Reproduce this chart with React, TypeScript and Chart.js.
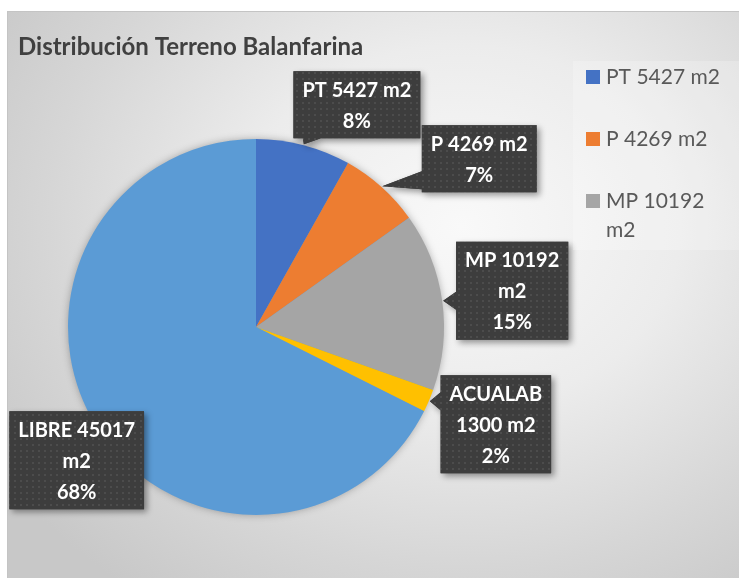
import React, { useEffect, useRef } from "react";
import { Chart, registerables } from "chart.js";

Chart.register(...registerables);

// ---- data ----
const chartTitle = "Distribución Terreno Balanfarina";
const categories = ["PT 5427 m2", "P 4269 m2", "MP 10192 m2", "ACUALAB 1300 m2", "LIBRE 45017 m2"];
// slice sizes (the P slice is drawn at ~7%)
const areas = [5427, 4650, 10192, 1300, 45017];
const sliceColors = ["#4472C4", "#ED7D31", "#A5A5A5", "#FFC000", "#5B9BD5"];

// ---- layout (not data) ----
const labelOffsets: [number, number][] = [
  [53, -39.5],
  [97, -27.5],
  [69, -10],
  [66, 23],
  [-18.5, 34],
];
const labelWrapWidth = [130, 130, 110, 110, 125];
const FONT = "Lato, 'Open Sans', sans-serif";

function wrapText(ctx: CanvasRenderingContext2D, text: string, maxW: number): string[] {
  const words = text.split(" ");
  const lines: string[] = [];
  let cur = "";
  for (const w of words) {
    const test = cur ? cur + " " + w : w;
    if (cur && ctx.measureText(test).width > maxW) {
      lines.push(cur);
      cur = w;
    } else cur = test;
  }
  if (cur) lines.push(cur);
  return lines;
}

let patternCache: CanvasPattern | null = null;
function getPattern(ctx: CanvasRenderingContext2D) {
  if (patternCache) return patternCache;
  const c = document.createElement("canvas");
  c.width = 6;
  c.height = 6;
  const p = c.getContext("2d")!;
  p.fillStyle = "#3d3d3d";
  p.fillRect(0, 0, 6, 6);
  p.fillStyle = "#4c4c4c";
  p.fillRect(1, 1, 2, 2);
  patternCache = ctx.createPattern(c, "repeat");
  return patternCache;
}

const pieShadowPlugin = {
  id: "pieShadow",
  beforeDatasetsDraw(chart: any) {
    const meta = chart.getDatasetMeta(0);
    const arc = meta.data[0];
    if (!arc) return;
    const { x, y, outerRadius } = arc.getProps(["x", "y", "outerRadius"], true);
    const ctx = chart.ctx;
    ctx.save();
    ctx.shadowColor = "rgba(0,0,0,0.35)";
    ctx.shadowBlur = 9;
    ctx.beginPath();
    ctx.arc(x, y, outerRadius - 1, 0, Math.PI * 2);
    ctx.fillStyle = "#5B9BD5";
    ctx.fill();
    ctx.restore();
  },
};

const titlePlugin = {
  id: "customTitle",
  afterDraw(chart: any) {
    const ctx = chart.ctx;
    ctx.save();
    ctx.font = `bold 24px ${FONT}`;
    ctx.fillStyle = "#404040";
    ctx.textAlign = "left";
    ctx.textBaseline = "alphabetic";
    ctx.fillText(chartTitle, 11, 44);
    ctx.restore();
  },
};

const legendPlugin = {
  id: "customLegend",
  afterDraw(chart: any) {
    const ctx = chart.ctx;
    const boxX = 566, boxY = 50, boxW = 170, boxH = 189;
    ctx.save();
    ctx.fillStyle = "rgba(255,255,255,0.22)";
    ctx.fillRect(boxX, boxY, boxW, boxH);
    ctx.font = `21px ${FONT}`;
    ctx.textBaseline = "alphabetic";
    ctx.textAlign = "left";
    let yTop = 59;
    const lineH = 29;
    const itemGap = 62;
    for (let i = 0; i < categories.length; i++) {
      const lines = wrapText(ctx, categories[i], 122);
      if (yTop + lines.length * lineH > boxY + boxH + 4) break;
      ctx.fillStyle = sliceColors[i];
      ctx.fillRect(579, yTop, 14, 14);
      ctx.fillStyle = "#595959";
      lines.forEach((l, k) => ctx.fillText(l, 599, yTop + 14 + k * lineH));
      yTop += itemGap;
    }
    ctx.restore();
  },
};

const dataLabelPlugin = {
  id: "calloutLabels",
  afterDatasetsDraw(chart: any) {
    const ctx: CanvasRenderingContext2D = chart.ctx;
    const meta = chart.getDatasetMeta(0);
    const total = areas.reduce((a, b) => a + b, 0);
    ctx.save();
    ctx.font = `bold 20px ${FONT}`;
    meta.data.forEach((arc: any, i: number) => {
      const { x, y, startAngle, endAngle, outerRadius } = arc.getProps(
        ["x", "y", "startAngle", "endAngle", "outerRadius"],
        true
      );
      const mid = (startAngle + endAngle) / 2;
      const tx = x + Math.cos(mid) * (outerRadius + 1);
      const ty = y + Math.sin(mid) * (outerRadius + 1);
      const pct = Math.round((areas[i] / total) * 100) + "%";
      const lines = [...wrapText(ctx, categories[i], labelWrapWidth[i]), pct];
      const lineH = 31;
      const tw = Math.max(...lines.map((l) => ctx.measureText(l).width));
      const w = tw + 18;
      const h = lines.length * lineH + 5;
      const cx = tx + labelOffsets[i][0];
      const cy = ty + labelOffsets[i][1];
      const bx = cx - w / 2, by = cy - h / 2;
      const br = bx + w, bb = by + h;
      const outs = [
        { e: "L", d: bx - tx },
        { e: "R", d: tx - br },
        { e: "T", d: by - ty },
        { e: "B", d: ty - bb },
      ].sort((a, b) => b.d - a.d);
      const edge = outs[0].d > 0 ? outs[0].e : "";
      const half = 9;
      const clamp = (v: number, a: number, b: number) => Math.max(a, Math.min(b, v));
      ctx.beginPath();
      ctx.moveTo(bx, by);
      if (edge === "T") {
        const c = clamp(tx, bx + 12, br - 12);
        ctx.lineTo(c - half, by); ctx.lineTo(tx, ty); ctx.lineTo(c + half, by);
      }
      ctx.lineTo(br, by);
      if (edge === "R") {
        const c = clamp(ty, by + 12, bb - 12);
        ctx.lineTo(br, c - half); ctx.lineTo(tx, ty); ctx.lineTo(br, c + half);
      }
      ctx.lineTo(br, bb);
      if (edge === "B") {
        const c = clamp(tx + 8, bx + 12, br - 12);
        ctx.lineTo(c + half, bb); ctx.lineTo(tx, ty); ctx.lineTo(c - half, bb);
      }
      ctx.lineTo(bx, bb);
      if (edge === "L") {
        const c = clamp(ty, by + 12, bb - 12);
        ctx.lineTo(bx, c + half); ctx.lineTo(tx, ty); ctx.lineTo(bx, c - half);
      }
      ctx.closePath();
      ctx.save();
      ctx.shadowColor = "rgba(0,0,0,0.4)";
      ctx.shadowBlur = 6;
      ctx.shadowOffsetX = 3;
      ctx.shadowOffsetY = 3;
      ctx.fillStyle = "#3d3d3d";
      ctx.fill();
      ctx.restore();
      ctx.fillStyle = getPattern(ctx) as any;
      ctx.fill();
      ctx.fillStyle = "#ffffff";
      ctx.textAlign = "center";
      ctx.textBaseline = "middle";
      lines.forEach((l, k) => {
        const ly = cy + (k - (lines.length - 1) / 2) * lineH + 1;
        ctx.fillText(l, cx, ly);
      });
    });
    ctx.restore();
  },
};

export default function App() {
  const canvasRef = useRef<HTMLCanvasElement>(null);

  useEffect(() => {
    const ctx = canvasRef.current!.getContext("2d")!;
    const chart = new Chart(ctx, {
      type: "pie",
      data: {
        labels: categories,
        datasets: [
          {
            data: areas,
            backgroundColor: sliceColors,
            borderWidth: 0,
          },
        ],
      },
      options: {
        responsive: false,
        animation: false,
        layout: { padding: { left: 61, right: 295, top: 128, bottom: 63 } },
        plugins: {
          legend: { display: false },
          title: { display: false },
          tooltip: { enabled: false },
        },
      },
      plugins: [pieShadowPlugin, dataLabelPlugin, titlePlugin, legendPlugin],
    });
    return () => chart.destroy();
  }, []);

  return (
    <div style={{ position: "fixed", left: 0, top: 0, width: 739, height: 578, background: "#ffffff", overflow: "hidden" }}>
      <div
        style={{
          position: "absolute",
          left: 7,
          top: 11,
          width: 732,
          height: 567,
          background:
            "radial-gradient(ellipse 75% 80% at 62% 38%, #f9f9f9 0%, #ececec 40%, #d6d6d6 75%, #c8c8c8 100%)",
          boxShadow: "inset 1px 1px 0 #c4c4c4",
        }}
      >
        <canvas ref={canvasRef} width={732} height={567} style={{ position: "absolute", left: 0, top: 0, width: 732, height: 567 }} />
      </div>
    </div>
  );
}
